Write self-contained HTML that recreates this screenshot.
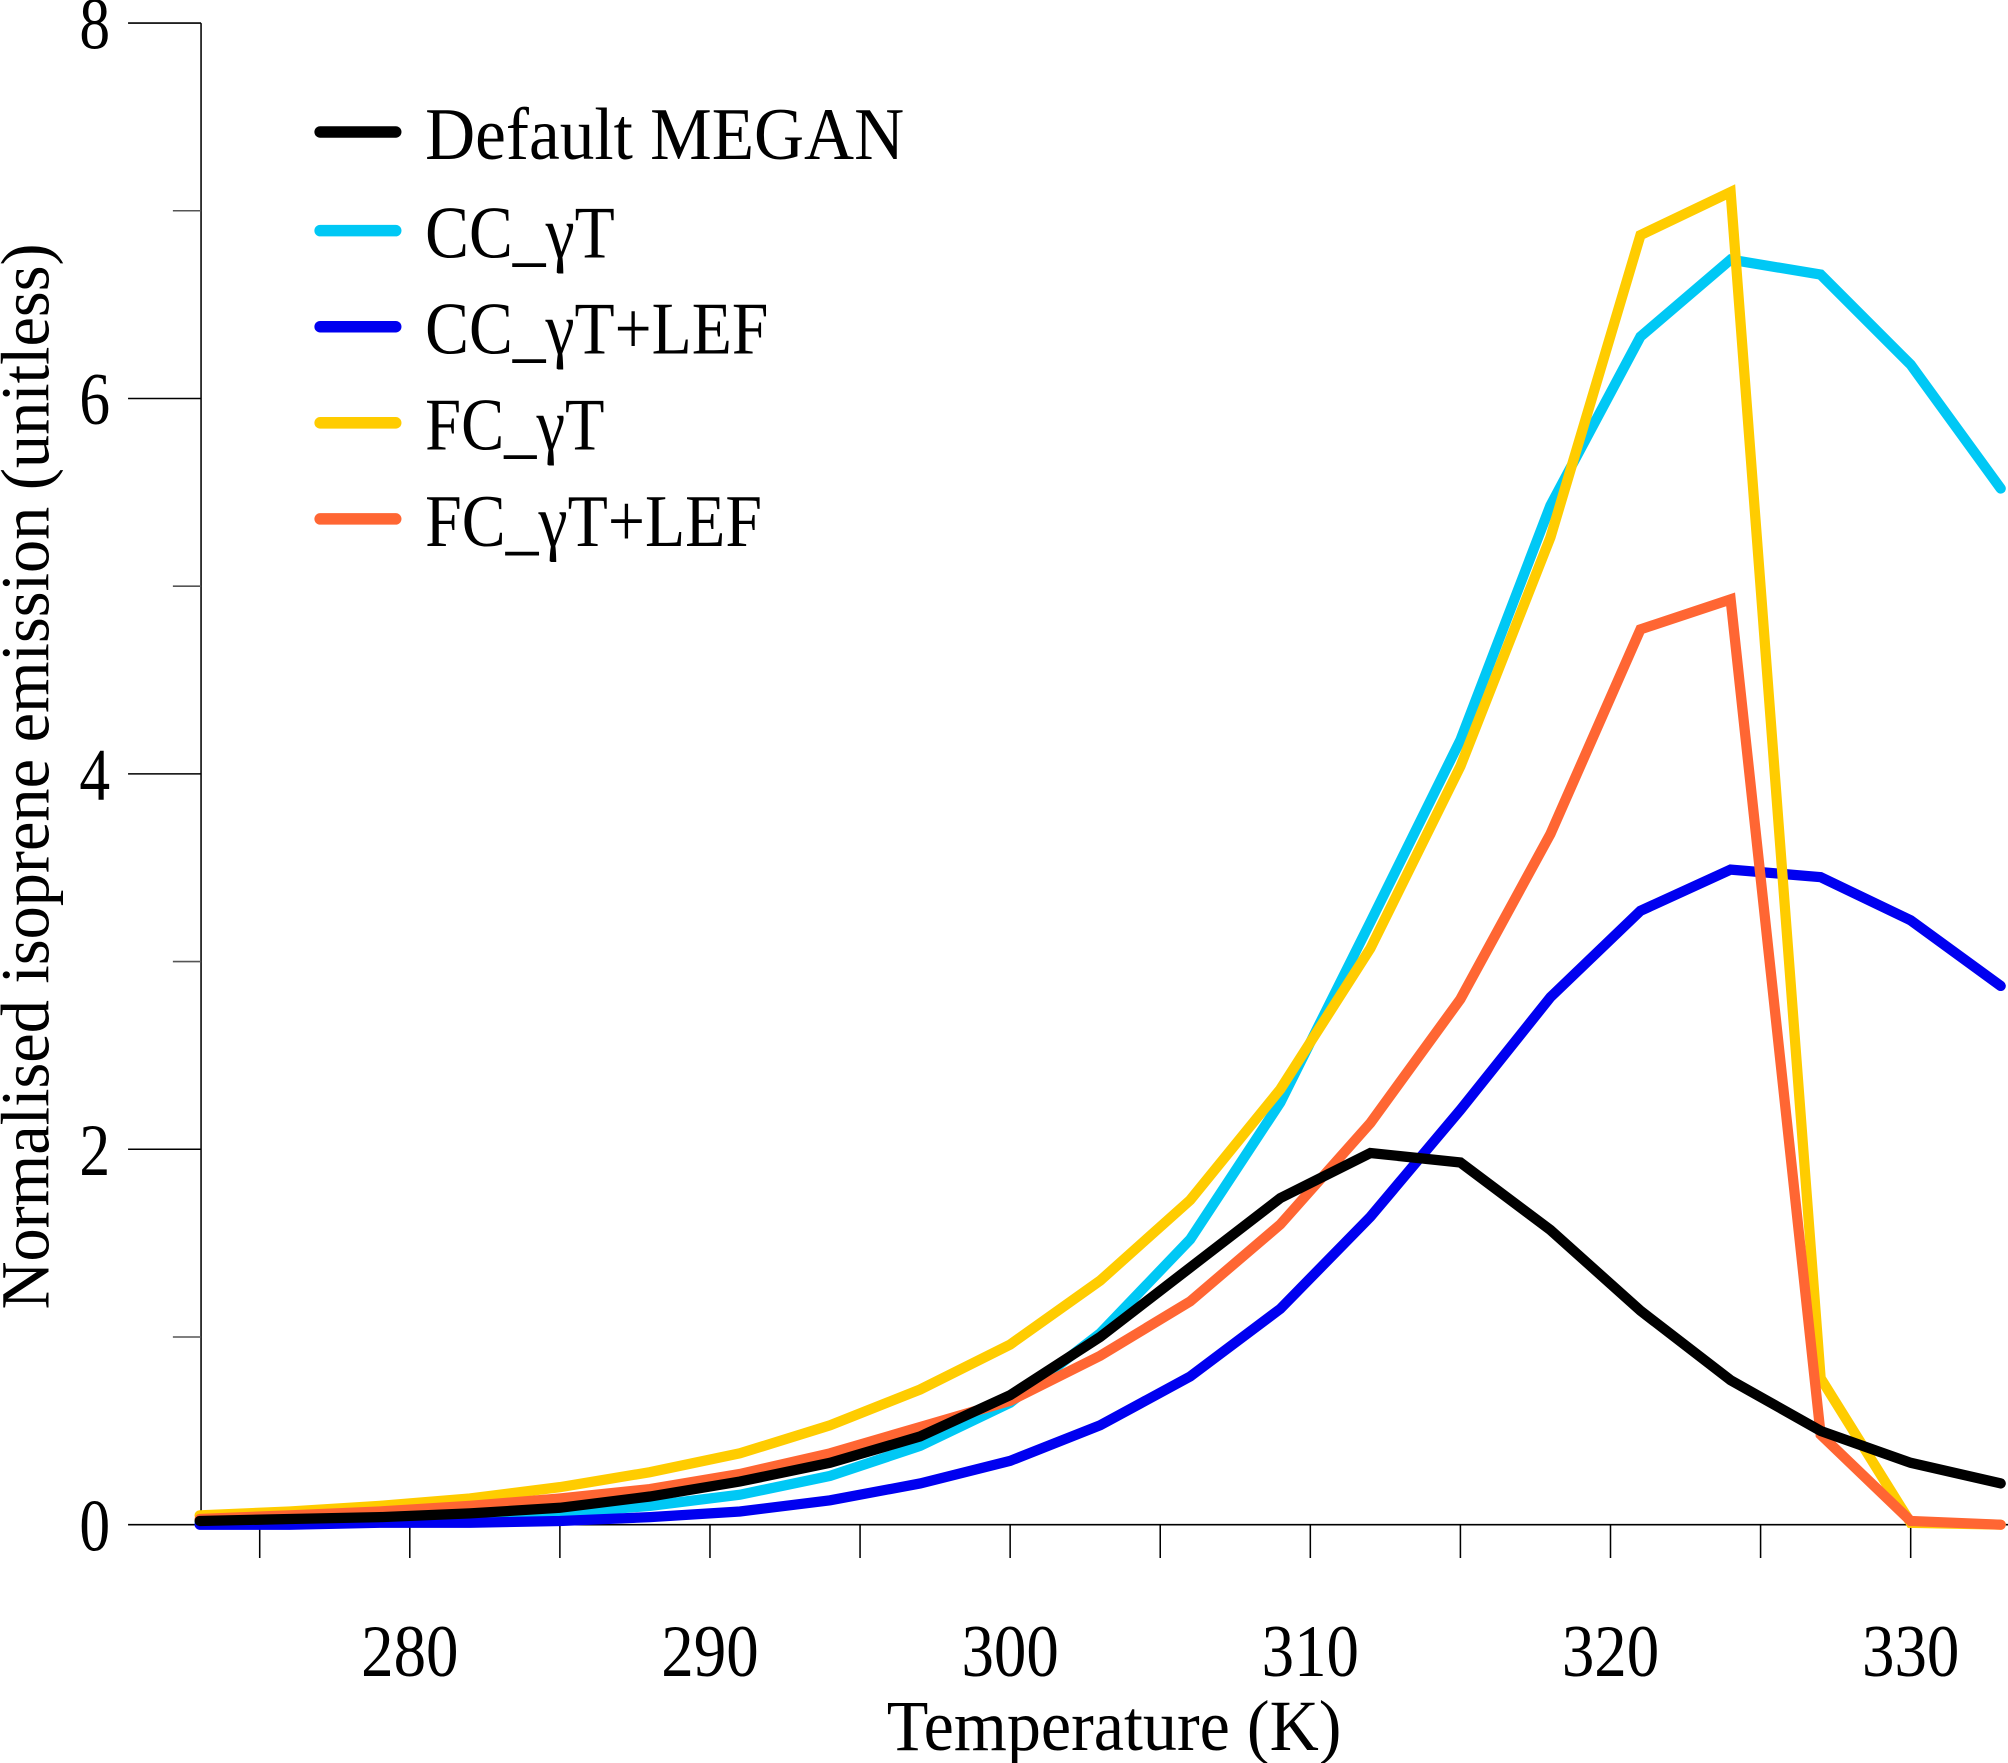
<!DOCTYPE html>
<html><head><meta charset="utf-8"><style>html,body{margin:0;padding:0;background:#fff}svg{display:block}</style></head>
<body>
<svg id="chart" width="2008" height="1763" viewBox="0 0 1568 1376" preserveAspectRatio="none" xmlns="http://www.w3.org/2000/svg" font-family="'Liberation Serif', serif">
</svg>
<script>
const temps = [273,276,279,282,285,288,291,294,297,300,303,306,309,312,315,318,321,324,327,330,333];
const defaultMegan = [0.02,0.03,0.04,0.06,0.09,0.15,0.23,0.33,0.47,0.69,1.0,1.37,1.74,1.98,1.93,1.57,1.14,0.77,0.5,0.33,0.22];
const ccGammaT = [0.01,0.01,0.02,0.04,0.06,0.10,0.16,0.26,0.42,0.65,1.02,1.52,2.25,3.21,4.18,5.43,6.33,6.74,6.66,6.18,5.52];
const ccGammaTLef = [0.0,0.0,0.01,0.01,0.02,0.04,0.07,0.13,0.22,0.34,0.53,0.79,1.15,1.64,2.21,2.81,3.27,3.49,3.45,3.22,2.87];
const fcGammaT = [0.05,0.07,0.10,0.14,0.20,0.28,0.38,0.53,0.72,0.96,1.30,1.73,2.32,3.07,4.04,5.26,6.87,7.10,0.78,0.01,0.0];
const fcGammaTLef = [0.03,0.05,0.07,0.10,0.14,0.19,0.27,0.38,0.52,0.66,0.90,1.19,1.60,2.14,2.80,3.68,4.77,4.93,0.48,0.02,0.0];
const xTicks = [280,290,300,310,320,330];
const xMinor = [275,285,295,305,315,325];
const yTicks = [0,2,4,6,8];
const yMinor = [1,3,5,7];
const seriesNames = ["Default MEGAN","CC_\u03b3T","CC_\u03b3T+LEF","FC_\u03b3T","FC_\u03b3T+LEF"];

const NS="http://www.w3.org/2000/svg";
const svg=document.getElementById('chart');
const X0=157, XR=1568, Y0=1190, YT=18;
const xS=t=>320+(t-280)*23.44;
const yS=v=>Y0-v*(Y0-YT)/8;
function mk(tag,attrs,parent){const e=document.createElementNS(NS,tag);for(const k in attrs)e.setAttribute(k,attrs[k]);(parent||svg).appendChild(e);return e;}

let ax=mk('line',{x1:X0,y1:YT,x2:X0,y2:Y0,stroke:'#000','stroke-width':1.2});


let bx=mk('line',{x1:X0,y1:Y0,x2:XR,y2:Y0,stroke:'#000','stroke-width':1.2});



yTicks.forEach(v=>{
  const y=yS(v);
  const t=mk('line',{x1:100,y1:y,x2:X0,y2:y,stroke:'#000','stroke-width':1.2});
  
  
  const l=mk('text',{x:74,y:y+20,'text-anchor':'middle','font-size':58,textLength:24,lengthAdjust:'spacingAndGlyphs'});
  l.textContent=v;
  
  
});
yMinor.forEach(v=>{
  const y=yS(v);
  const t=mk('line',{x1:135,y1:y,x2:X0,y2:y,stroke:'#555','stroke-width':1.2});
  
  
});
xTicks.forEach(v=>{
  const x=xS(v);
  const t=mk('line',{x1:x,y1:Y0,x2:x,y2:1216,stroke:'#000','stroke-width':1.2});
  
  
  const l=mk('text',{x:x,y:1308,'text-anchor':'middle','font-size':58,textLength:76,lengthAdjust:'spacingAndGlyphs'});
  l.textContent=v;
  
  
});
xMinor.forEach(v=>{
  const x=xS(v);
  const t=mk('line',{x1:x,y1:Y0,x2:x,y2:1216,stroke:'#000','stroke-width':1.2});
  
  
});
let xt=mk('text',{x:870,y:1366,'text-anchor':'middle','font-size':56,textLength:355,lengthAdjust:'spacingAndGlyphs'});
xt.textContent='Temperature  (K)';


let yt=mk('text',{x:0,y:0,'text-anchor':'middle','font-size':54,textLength:832,lengthAdjust:'spacingAndGlyphs',transform:'translate(38,606) rotate(-90)'});
yt.textContent='Normalised isoprene emission (unitless)';



const allSeries=[defaultMegan,ccGammaT,ccGammaTLef,fcGammaT,fcGammaTLef];
const colors=['#000000','#00c8f5','#0000f0','#ffcc00','#ff6633'];
const order=[1,2,3,4,0];
order.forEach(i=>{
  const d=allSeries[i].map((v,j)=>(j?'L':'M')+xS(temps[j]).toFixed(1)+','+yS(v).toFixed(1)).join(' ');
  const p=mk('path',{d:d,fill:'none',stroke:colors[i],'stroke-width':8,'stroke-linejoin':'miter','stroke-linecap':'round'});
  
  
});
const legendY=[103,180,255,330,405];
const legendLen=[374,148,268,140,263];
seriesNames.forEach((n,i)=>{
  const g=mk('g',{});
  
  
  mk('line',{x1:250,y1:legendY[i],x2:309,y2:legendY[i],stroke:colors[i],'stroke-width':9,'stroke-linecap':'round'},g);
  const t=mk('text',{x:332,y:legendY[i]+21,'font-size':58,textLength:legendLen[i],lengthAdjust:'spacingAndGlyphs'},g);
  t.textContent=n;
});
</script>
</body></html>
